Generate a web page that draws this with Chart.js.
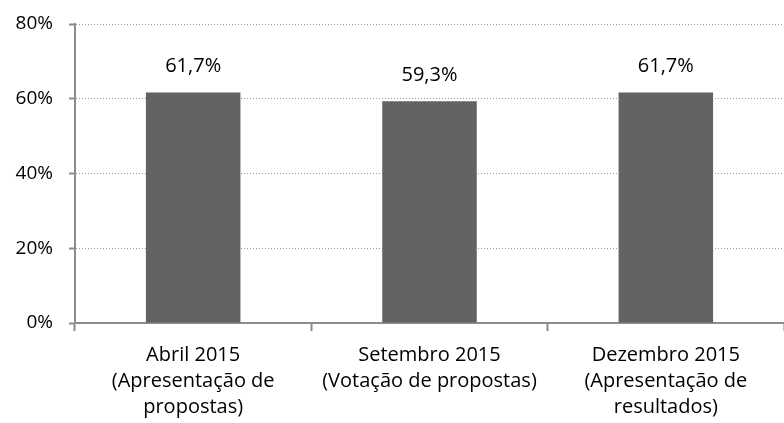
<!DOCTYPE html>
<html>
<head>
<meta charset="utf-8">
<script src="https://cdn.jsdelivr.net/npm/chart.js@4.4.1/dist/chart.umd.min.js"></script>
<style>
  html, body { margin: 0; padding: 0; background: #fff; }
  #wrap { width: 784px; height: 423px; }
</style>
</head>
<body>
<div id="wrap"><canvas id="chart"></canvas></div>
<script>
const categories = [
  ["Abril 2015", "(Apresentação de", "propostas)"],
  ["Setembro 2015", "(Votação de propostas)"],
  ["Dezembro 2015", "(Apresentação de", "resultados)"]
];
const values = [61.7, 59.3, 61.7];
const yTicks = [0, 20, 40, 60, 80];

const fontFamily = "'Open Sans', 'Noto Sans', sans-serif";

// value labels above the bars
const barLabels = {
  id: "barLabels",
  afterDatasetsDraw(chart) {
    const ctx = chart.ctx;
    const meta = chart.getDatasetMeta(0);
    ctx.save();
    ctx.font = "20px " + fontFamily;
    ctx.fillStyle = "#000";
    ctx.textAlign = "center";
    ctx.textBaseline = "middle";
    meta.data.forEach(function (bar, i) {
      ctx.fillText(values[i].toFixed(1).replace(".", ",") + "%", bar.x, bar.y - 26);
    });
    ctx.restore();
  }
};

const ctx = document.getElementById("chart").getContext("2d");
new Chart(ctx, {
  type: "bar",
  data: {
    labels: categories,
    datasets: [
      {
        data: values,
        backgroundColor: "#636363",
        borderWidth: 0,
        barPercentage: 0.4,
        categoryPercentage: 1.0,
      },
    ],
  },
  options: {
    responsive: true,
    maintainAspectRatio: false,
    animation: false,
    layout: {
      padding: { top: 24, right: 0, left: 0, bottom: 0 }
    },
    plugins: {
      legend: { display: false },
      tooltip: { enabled: false }
    },
    scales: {
      y: {
        min: 0,
        max: 80,
        afterFit: function (scale) {
          scale.width = 75;
          // tick padding should only push labels sideways, not shrink the plot
          scale.paddingTop = 12;
          scale.paddingBottom = 12;
        },
        afterBuildTicks: function (scale) {
          scale.ticks = yTicks.map(function (v) { return { value: v }; });
        },
        ticks: {
          padding: 16,
          color: "#000",
          font: { family: fontFamily, size: 19 },
          callback: function (v) { return v + "%"; }
        },
        grid: {
          color: "#9a9a9a",
          lineWidth: 1,
          drawTicks: true,
          tickLength: 6,
          tickColor: "#8c8c8c",
          tickBorderDash: [],
          tickWidth: 2
        },
        border: {
          display: true,
          color: "#8c8c8c",
          width: 2,
          dash: [1, 2]
        }
      },
      x: {
        afterFit: function (scale) { scale.height = 100; },
        ticks: {
          color: "#000",
          padding: 11,
          maxRotation: 0,
          font: { family: fontFamily, size: 20, lineHeight: 1.3 }
        },
        grid: {
          offset: true,
          drawOnChartArea: false,
          drawTicks: true,
          tickLength: 8,
          tickColor: "#8c8c8c",
          tickWidth: 2
        },
        border: {
          display: true,
          color: "#8c8c8c",
          width: 2
        }
      }
    }
  },
  plugins: [barLabels]
});
</script>
</body>
</html>
